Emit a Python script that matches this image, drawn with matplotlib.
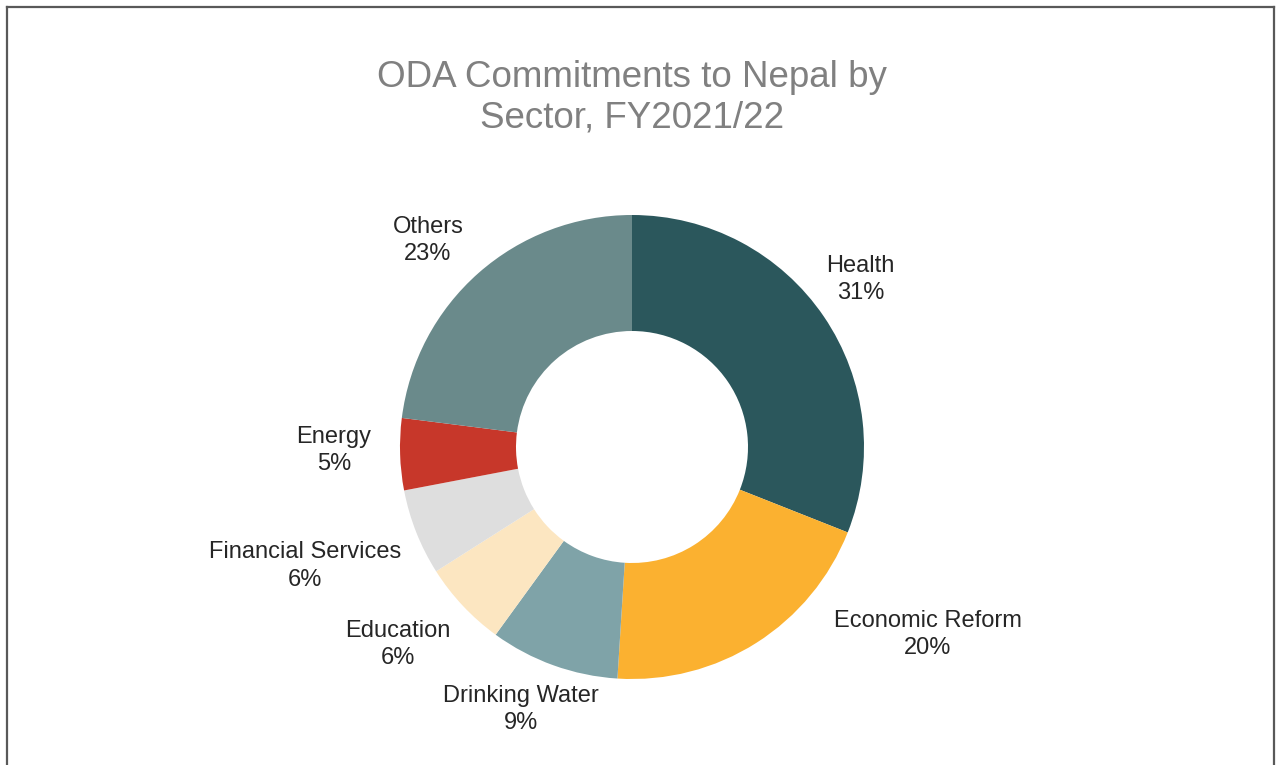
import matplotlib.pyplot as plt
import numpy as np
from matplotlib.lines import Line2D

plt.rcParams["font.family"] = ["Liberation Sans", "DejaVu Sans"]

# ODA commitments by sector (share of total, %)
sectors = [
    "Health",
    "Economic Reform",
    "Drinking Water",
    "Education",
    "Financial Services",
    "Energy",
    "Others",
]
shares = [31, 20, 9, 6, 6, 5, 23]
colors = ["#2b575c", "#fbb130", "#7fa3a8", "#fce6c1", "#dedede", "#c7372a", "#6a8a8b"]

# label placement: radial distance (in radii) and angular nudge (deg) per wedge
label_dist = [1.22, 1.51, 1.23, 1.32, 1.50, 1.285, 1.25]
label_nudge = [2.0, 25.2, -3.2, -3.0, -1.6, -1.2, 3.3]

W, H = 1279, 765
cx, cy, R = 632, 447, 232

fig = plt.figure(figsize=(W / 100, H / 100), dpi=100)
ax = fig.add_axes([0, 0, 1, 1])

wedges, _ = ax.pie(
    shares,
    colors=colors,
    startangle=90,
    counterclock=False,
    radius=1.0,
    wedgeprops=dict(width=0.5, edgecolor="none", linewidth=0),
)

ax.set_xlim(-cx / R, (W - cx) / R)
ax.set_ylim((cy - H) / R, cy / R)
ax.set_aspect("equal")
ax.axis("off")

for w, name, val, d, nudge in zip(wedges, sectors, shares, label_dist, label_nudge):
    mid = np.radians((w.theta1 + w.theta2) / 2 + nudge)
    ax.text(
        d * np.cos(mid),
        d * np.sin(mid),
        f"{name}\n{val}%",
        ha="center",
        va="center",
        fontsize=17,
        color="#262626",
        linespacing=1.3,
    )

fig.text(
    cx / W,
    1 - 60 / H,
    "ODA Commitments to Nepal by\nSector, FY2021/22",
    ha="center",
    va="top",
    fontsize=26.5,
    color="#808080",
    linespacing=1.2,
)

# frame around the chart area (open at the bottom)
x0, x1, y0 = 6.5 / W, 1273.5 / W, 1 - 6.5 / H
for xs, ys in [([x0, x0], [0, y0]), ([x0, x1], [y0, y0]), ([x1, x1], [y0, 0])]:
    fig.add_artist(Line2D(xs, ys, transform=fig.transFigure, color="#595959", linewidth=1.6))

fig.savefig("out.png", dpi=100, facecolor="white")
